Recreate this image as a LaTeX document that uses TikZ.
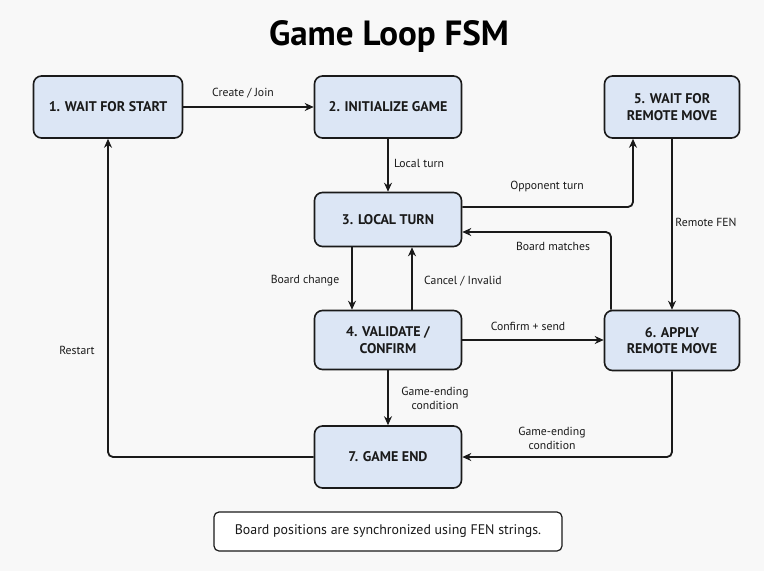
\documentclass[tikz,border=0pt]{standalone}
\usepackage{fontspec}
\setmainfont{PT Sans}
\usetikzlibrary{arrows.meta}
\definecolor{bg}{HTML}{F8F8F8}
\definecolor{boxfill}{HTML}{DCE6F5}
\definecolor{ink}{HTML}{1A1A1A}
\tikzset{
  state/.style={draw=ink, line width=1.6pt, fill=boxfill, rounded corners=8pt, align=center,
    font=\fontsize{14}{16.5}\selectfont\bfseries, text=ink, inner sep=0pt},
  conn/.style={draw=ink, line width=1.8pt, -{Stealth[length=9pt,width=8pt]}, rounded corners=5pt},
  lbl/.style={font=\fontsize{11.7}{14}\selectfont, text=ink, align=center, inner sep=1pt},
}
\begin{document}
\begin{tikzpicture}[x=1pt,y=-1pt]
\fill[bg] (0,0) rectangle (764,571);
\useasboundingbox (0,0) rectangle (764,571);
\node[font=\fontsize{35}{40}\selectfont\bfseries, text=black] (title) at (389,37) {Game Loop FSM};

\node[state, minimum width=149pt, minimum height=62pt] (s1) at (108,107) {1. WAIT FOR START};
\node[state, minimum width=147pt, minimum height=62pt] (s2) at (388,107) {2. INITIALIZE GAME};
\node[state, minimum width=135pt, minimum height=62pt] (s5) at (672,107) {5. WAIT FOR\\REMOTE MOVE};
\node[state, minimum width=147pt, minimum height=54pt] (s3) at (388,219.5) {3. LOCAL TURN};
\node[state, minimum width=147pt, minimum height=59pt] (s4) at (388,340) {4. VALIDATE /\\CONFIRM};
\node[state, minimum width=135pt, minimum height=60pt] (s6) at (672,340.5) {6. APPLY\\REMOTE MOVE};
\node[state, minimum width=147pt, minimum height=62pt] (s7) at (388,457) {7. GAME END};

\node[draw=ink, line width=1.2pt, fill=white, rounded corners=5pt, minimum width=348pt, minimum height=39pt,
  font=\fontsize{13.9}{16}\selectfont, text=ink] (note) at (388,531.5) {Board positions are synchronized using FEN strings.};

% connectors
\draw[conn] (s1.east) -- (s2.west);
\node[lbl] (l12) at (243,93) {Create / Join};

\draw[conn] (s2.south) -- (s3.north);
\node[lbl] (l23) at (419,163) {Local turn};

\draw[conn] (s3.east |- 0,207) -| (s5.south -| 633,0);
\node[lbl] (l35) at (547,186) {Opponent turn};

\draw[conn] (s6.north -| 611,0) |- (s3.east |- 0,232);
\node[lbl] (l63) at (553,246) {Board matches};

\draw[conn] (s5.south) -- (s6.north);
\node[lbl] (l56) at (706,222) {Remote FEN};

\draw[conn] (s3.south -| 352,0) -- (s4.north -| 352,0);
\node[lbl] (l34) at (305,281) {Board change};

\draw[conn] (s4.north -| 412,0) -- (s3.south -| 412,0);
\node[lbl] (l43) at (463,281) {Cancel / Invalid};

\draw[conn] (s4.east) -- (s6.west |- s4.east);
\node[lbl] (l46) at (528,326) {Confirm + send};

\draw[conn] (s4.south) -- (s7.north);
\node[lbl] (l47) at (435,398) {Game-ending\\condition};

\draw[conn] (s6.south) |- (s7.east);
\node[lbl] (l67) at (552,438) {Game-ending\\condition};

\draw[conn] (s7.west) -| (s1.south);
\node[lbl] (l71) at (77,350) {Restart};
\end{tikzpicture}
\end{document}
